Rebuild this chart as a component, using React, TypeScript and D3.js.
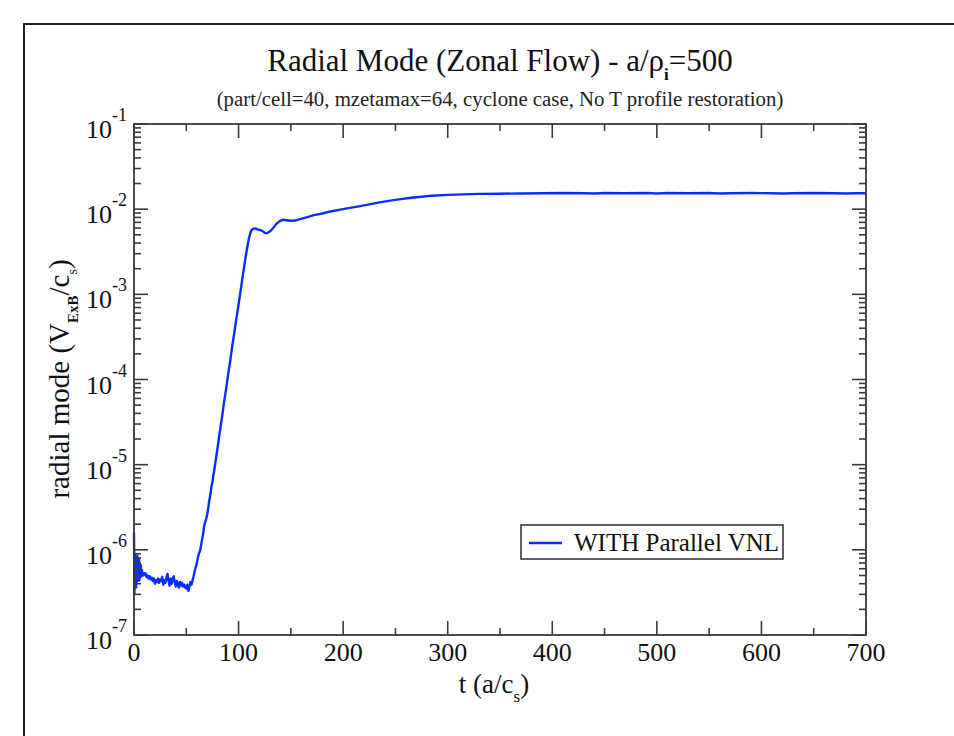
import { useEffect, useRef } from 'react';
import * as d3 from 'd3';

type Pt = [number, number];

const X_MAJOR = [0, 100, 200, 300, 400, 500, 600, 700];
const X_MINOR = [50, 150, 250, 350, 450, 550, 650];
const Y_EXPONENTS = [-7, -6, -5, -4, -3, -2, -1];

// noisy start before the instability kicks in
const ONSET: Pt[] = [
  [0, 1.6e-6], [0.4, 3.1e-7], [0.8, 9e-7], [1.2, 4.2e-7], [1.6, 7.6e-7], [2.0, 3.6e-7],
  [2.4, 6.4e-7], [2.8, 4.6e-7], [3.2, 8.6e-7], [3.6, 4.3e-7], [4.0, 7.2e-7], [4.4, 5.0e-7],
  [4.8, 7.9e-7], [5.2, 4.4e-7], [5.6, 6.2e-7], [6.0, 4.7e-7], [6.5, 6.6e-7], [7.0, 4.9e-7],
  [7.5, 5.8e-7], [8, 5.4e-7], [9, 5.0e-7], [10, 5.3e-7], [11, 5.3e-7], [12, 4.8e-7],
  [13, 5.0e-7], [14, 4.6e-7], [15, 4.9e-7], [16, 4.5e-7], [17, 4.7e-7], [18, 4.3e-7],
  [19, 4.6e-7], [20, 4.0e-7], [21, 4.4e-7], [22, 4.2e-7], [23, 4.6e-7], [24, 4.1e-7],
  [25, 4.5e-7], [26, 4.3e-7], [27, 4.8e-7], [28, 3.9e-7], [29, 4.4e-7], [30, 4.1e-7],
  [31, 4.7e-7], [32, 5.2e-7], [33, 4.3e-7], [34, 3.8e-7], [35, 4.6e-7], [36, 4.0e-7],
  [37, 4.5e-7], [38, 4.9e-7], [39, 4.1e-7], [40, 3.7e-7], [41, 4.3e-7], [42, 4.0e-7],
  [43, 3.6e-7], [44, 4.2e-7], [45, 3.8e-7], [46, 4.1e-7], [47, 3.7e-7], [48, 3.9e-7],
  [49, 3.6e-7], [50, 3.5e-7], [51, 3.9e-7], [52, 3.3e-7], [53, 3.7e-7], [54, 4.2e-7],
  [55, 3.9e-7],
];

// linear (exponential) growth phase
const GROWTH: Pt[] = [
  [56, 4.4e-7], [57, 4.9e-7], [58, 5.6e-7], [59, 6.3e-7], [60, 6.8e-7], [61, 8.0e-7],
  [62, 9.0e-7], [63, 9.6e-7], [64, 1.1e-6], [65, 1.3e-6], [66, 1.5e-6], [67, 1.9e-6],
  [68, 2.1e-6], [69, 2.3e-6], [70, 2.6e-6], [71, 3.1e-6], [72, 3.8e-6], [73, 4.4e-6],
  [74, 5.5e-6], [75, 6.3e-6], [76, 7.6e-6], [77, 9.0e-6], [78, 1.1e-5], [80, 1.6e-5],
  [82, 2.4e-5], [84, 3.5e-5], [86, 5.3e-5], [88, 7.6e-5], [90, 1.15e-4], [92, 1.65e-4],
  [94, 2.5e-4], [96, 3.6e-4], [98, 5.3e-4], [100, 7.6e-4], [102, 1.12e-3], [104, 1.65e-3],
  [106, 2.4e-3], [108, 3.4e-3], [110, 4.6e-3], [112, 5.6e-3], [114, 5.9e-3],
];

// nonlinear saturation
const SATURATION: Pt[] = [
  [116, 5.95e-3], [118, 5.8e-3], [120, 5.7e-3], [122, 5.6e-3], [124, 5.4e-3], [126, 5.2e-3],
  [128, 5.3e-3], [130, 5.5e-3], [132, 5.8e-3], [134, 6.2e-3], [136, 6.7e-3], [139, 7.2e-3],
  [142, 7.5e-3], [146, 7.4e-3], [150, 7.3e-3], [154, 7.35e-3], [158, 7.6e-3], [165, 8.0e-3],
  [172, 8.5e-3], [180, 8.9e-3], [188, 9.4e-3], [196, 9.8e-3], [205, 1.03e-2], [215, 1.08e-2],
  [225, 1.14e-2], [235, 1.2e-2], [245, 1.26e-2], [255, 1.31e-2], [265, 1.36e-2], [275, 1.4e-2],
  [285, 1.44e-2], [300, 1.47e-2], [315, 1.49e-2], [330, 1.51e-2], [350, 1.52e-2], [370, 1.53e-2],
  [390, 1.54e-2], [410, 1.55e-2], [430, 1.54e-2], [440, 1.53e-2], [450, 1.55e-2], [470, 1.54e-2],
  [490, 1.55e-2], [500, 1.53e-2], [510, 1.55e-2], [530, 1.54e-2], [550, 1.55e-2], [560, 1.53e-2],
  [570, 1.54e-2], [590, 1.55e-2], [610, 1.54e-2], [620, 1.53e-2], [630, 1.54e-2], [650, 1.55e-2],
  [670, 1.54e-2], [680, 1.53e-2], [690, 1.54e-2], [700, 1.54e-2],
];

const FONT = '"Liberation Serif", "Times New Roman", serif';
const AXIS = '#3a3a3a';
const BLUE = '#0a2dff';

export default function App() {
  const ref = useRef<HTMLDivElement>(null);

  useEffect(() => {
    if (!ref.current) return;
    const container = ref.current;
    container.innerHTML = '';

    const W = 954, H = 736;
    const m = { left: 134, right: 866, top: 124, bottom: 635 };

    const svg = d3.select(container).append('svg')
      .attr('width', W).attr('height', H)
      .style('font-family', FONT);

    svg.append('rect').attr('width', W).attr('height', H).attr('fill', '#fff');

    // page frame
    svg.append('rect')
      .attr('x', 24).attr('y', 24).attr('width', 960).attr('height', 760)
      .attr('fill', 'none').attr('stroke', '#222').attr('stroke-width', 2);

    const x = d3.scaleLinear().domain([0, 700]).range([m.left, m.right]);
    const y = d3.scaleLog().domain([1e-7, 1e-1]).range([m.bottom, m.top]);

    // title
    const title = svg.append('text')
      .attr('x', 500).attr('y', 71).attr('text-anchor', 'middle')
      .attr('font-size', 31).attr('fill', '#111');
    title.append('tspan').text('Radial Mode (Zonal Flow) - a/ρ');
    title.append('tspan').attr('font-size', 17).attr('font-weight', 'bold').attr('dy', 9).text('i');
    title.append('tspan').attr('dy', -9).text('=500');

    svg.append('text')
      .attr('x', 500).attr('y', 106).attr('text-anchor', 'middle')
      .attr('font-size', 20.8).attr('fill', '#222')
      .text('(part/cell=40, mzetamax=64, cyclone case, No T profile restoration)');

    // data line
    const data = [...ONSET, ...GROWTH, ...SATURATION];
    const line = d3.line<Pt>().x(d => x(d[0])).y(d => y(d[1]));
    svg.append('path')
      .datum(data)
      .attr('fill', 'none')
      .attr('stroke', BLUE)
      .attr('stroke-width', 2.4)
      .attr('stroke-linejoin', 'round')
      .attr('d', line);

    // frame of the plot
    svg.append('rect')
      .attr('x', m.left).attr('y', m.top)
      .attr('width', m.right - m.left).attr('height', m.bottom - m.top)
      .attr('fill', 'none').attr('stroke', AXIS).attr('stroke-width', 1.8);

    const ticks = svg.append('g').attr('stroke', AXIS).attr('stroke-width', 1.6);

    // x ticks, bottom and top, pointing inward
    const xTicks = [...X_MAJOR.map(v => ({ v, len: 14 })), ...X_MINOR.map(v => ({ v, len: 7 }))];
    xTicks.forEach(t => {
      ticks.append('line').attr('x1', x(t.v)).attr('x2', x(t.v))
        .attr('y1', m.bottom).attr('y2', m.bottom - t.len);
      ticks.append('line').attr('x1', x(t.v)).attr('x2', x(t.v))
        .attr('y1', m.top).attr('y2', m.top + t.len);
    });

    // y ticks, log decades with minors
    y.ticks().forEach(v => {
      const e = Math.log10(v);
      const major = Math.abs(e - Math.round(e)) < 1e-6;
      const len = major ? 14 : 7;
      ticks.append('line').attr('x1', m.left).attr('x2', m.left + len)
        .attr('y1', y(v)).attr('y2', y(v));
      ticks.append('line').attr('x1', m.right).attr('x2', m.right - len)
        .attr('y1', y(v)).attr('y2', y(v));
    });

    // x tick labels
    svg.append('g').selectAll('text').data(X_MAJOR).join('text')
      .attr('x', d => x(d)).attr('y', m.bottom + 26)
      .attr('text-anchor', 'middle').attr('font-size', 26).attr('fill', '#111')
      .text(d => String(d));

    // y tick labels 10^n
    const yl = svg.append('g').selectAll('text').data(Y_EXPONENTS).join('text')
      .attr('x', m.left - 7).attr('y', d => y(Math.pow(10, d)) + 14)
      .attr('text-anchor', 'end').attr('font-size', 26).attr('fill', '#111');
    yl.append('tspan').text('10');
    yl.append('tspan').attr('font-size', 18).attr('dy', -17).text(d => String(d));

    // axis titles
    const xt = svg.append('text')
      .attr('x', 494).attr('y', 693).attr('text-anchor', 'middle')
      .attr('font-size', 27).attr('fill', '#111');
    xt.append('tspan').text('t (a/c');
    xt.append('tspan').attr('font-size', 17).attr('dy', 9).text('s');
    xt.append('tspan').attr('dy', -9).text(')');

    const ytl = svg.append('text')
      .attr('transform', 'translate(69,379) rotate(-90)')
      .attr('text-anchor', 'middle').attr('font-size', 29).attr('fill', '#111');
    ytl.append('tspan').text('radial mode (V');
    ytl.append('tspan').attr('font-size', 15).attr('font-weight', 'bold').attr('dy', 9).text('ExB');
    ytl.append('tspan').attr('dy', -9).text('/c');
    ytl.append('tspan').attr('font-size', 14).attr('dy', 8).text('s');
    ytl.append('tspan').attr('dy', -8).text(')');

    // legend
    const lg = svg.append('g');
    lg.append('rect').attr('x', 521).attr('y', 525).attr('width', 262).attr('height', 34)
      .attr('fill', '#fff').attr('stroke', AXIS).attr('stroke-width', 1.6);
    lg.append('line').attr('x1', 529).attr('x2', 562).attr('y1', 543).attr('y2', 543)
      .attr('stroke', BLUE).attr('stroke-width', 2.4);
    lg.append('text').attr('x', 574).attr('y', 551).attr('font-size', 25).attr('fill', '#111')
      .text('WITH Parallel VNL');
  }, []);

  return <div ref={ref} style={{ position: 'absolute', left: 0, top: 0 }} />;
}
